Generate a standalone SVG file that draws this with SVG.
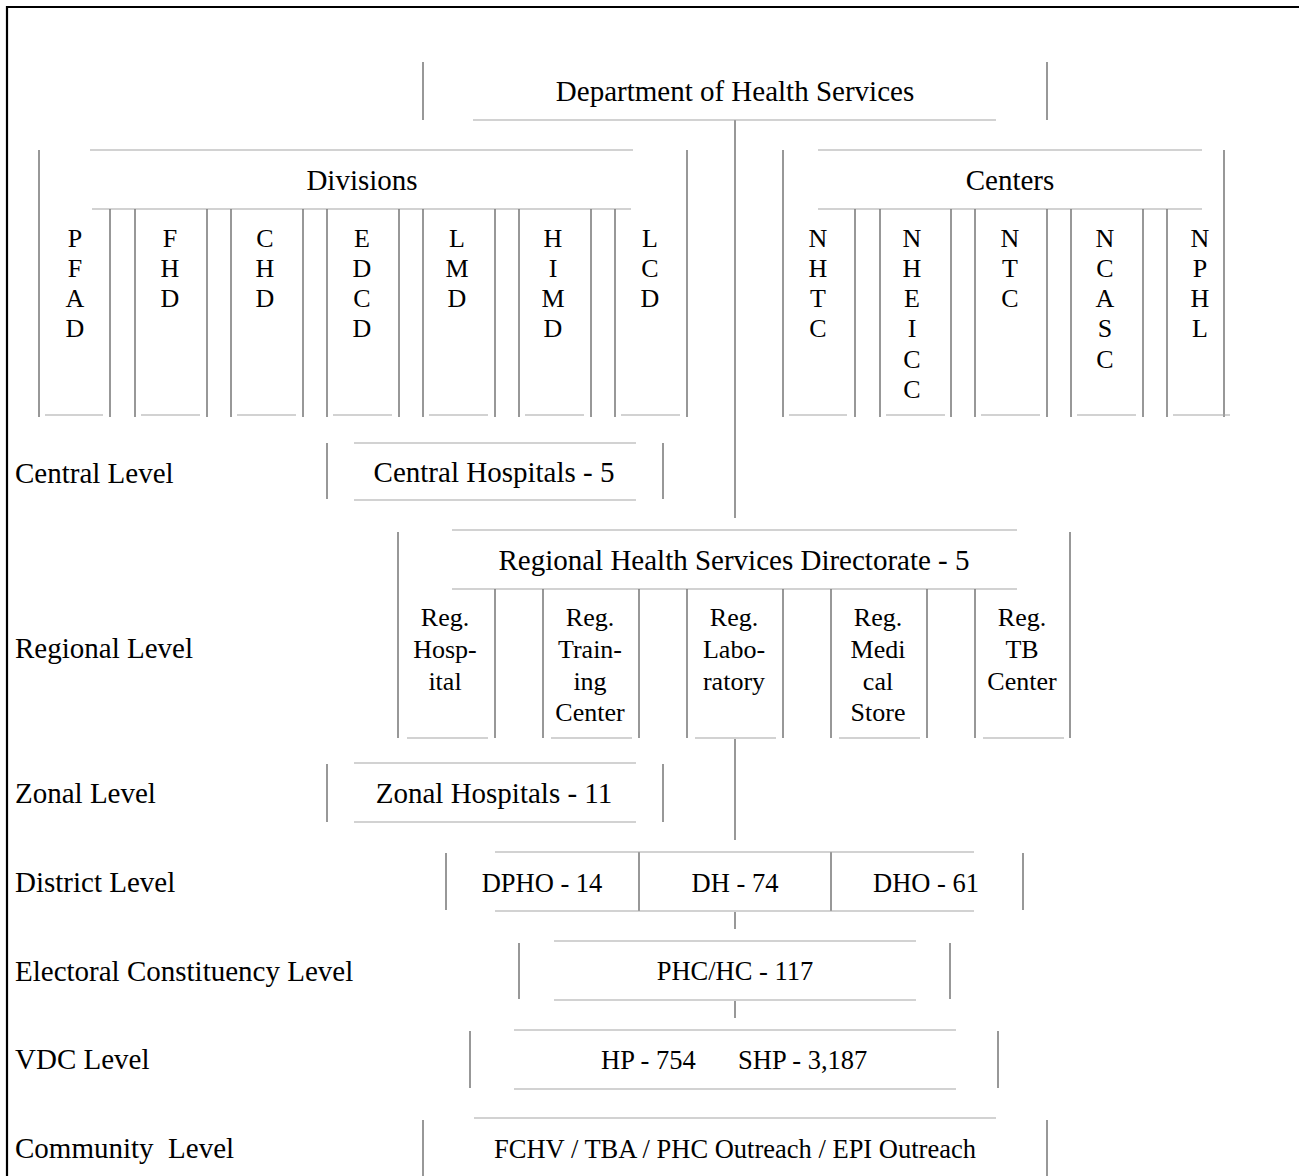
<svg xmlns="http://www.w3.org/2000/svg" width="1299" height="1176" viewBox="0 0 1299 1176">
<style>
text{font-family:"Liberation Serif","Times New Roman",serif;fill:#000}
.lg{font-size:29px}
.sm{font-size:26.5px}
.col{font-size:26px}
.c{text-anchor:middle}
.v{stroke:#7f7f7f;stroke-width:1.6;fill:none}
.h{stroke:#a6a6a6;stroke-width:1.2;fill:none}
.u{stroke:#a6a6a6;stroke-width:1.2;fill:none}
.b{stroke:#000;stroke-width:2.2;fill:none}
</style>
<rect width="1299" height="1176" fill="#fff"/>
<g id="border"><path class="b" d="M7 1176V7H1299"/></g>

<g id="levels" class="lg">
<text x="15" y="483">Central Level</text>
<text x="15" y="658">Regional Level</text>
<text x="15" y="803">Zonal Level</text>
<text x="15" y="892">District Level</text>
<text x="15" y="981">Electoral Constituency Level</text>
<text x="15" y="1069">VDC Level</text>
<text x="15" y="1158" style="white-space:pre">Community  Level</text>
</g>

<g id="connectors">
<path class="v" d="M735 120V518M735 739V840M735 912V929M735 1001V1018"/>
</g>

<g id="dhs">
<path class="v" d="M423 62V120M1047 62V120"/>
<path class="h" d="M473 120H996"/>
<text class="lg c" x="735" y="101">Department of Health Services</text>
</g>

<g id="divisions">
<path class="v" d="M39 150V417M687 150V417"/>
<path class="h" d="M90 150H633M92 209H631"/>
<text class="lg c" x="362" y="190">Divisions</text>
<path class="v" d="M110 209V417M135 209V417M207 209V417M231 209V417M303 209V417M327 209V417M399 209V417M423 209V417M495 209V417M519 209V417M591 209V417M615 209V417"/>
<path class="u" d="M45 415H103M141 415H200M237 415H296M333 415H392M429 415H488M525 415H584M621 415H680"/>
<g class="col c">
<text x="75" y="247">P</text><text x="75" y="277">F</text><text x="75" y="307">A</text><text x="75" y="337">D</text>
<text x="170" y="247">F</text><text x="170" y="277">H</text><text x="170" y="307">D</text>
<text x="265" y="247">C</text><text x="265" y="277">H</text><text x="265" y="307">D</text>
<text x="362" y="247">E</text><text x="362" y="277">D</text><text x="362" y="307">C</text><text x="362" y="337">D</text>
<text x="457" y="247">L</text><text x="457" y="277">M</text><text x="457" y="307">D</text>
<text x="553" y="247">H</text><text x="553" y="277">I</text><text x="553" y="307">M</text><text x="553" y="337">D</text>
<text x="650" y="247">L</text><text x="650" y="277">C</text><text x="650" y="307">D</text>
</g>
</g>

<g id="centers">
<path class="v" d="M783 150V417M1224 150V417"/>
<path class="h" d="M818 150H1202M818 209H1202"/>
<text class="lg c" x="1010" y="190">Centers</text>
<path class="v" d="M855 209V417M880 209V417M951 209V417M975 209V417M1047 209V417M1071 209V417M1143 209V417M1167 209V417"/>
<path class="u" d="M789 415H847M886 415H945M981 415H1040M1077 415H1136M1173 415H1230"/>
<g class="col c">
<text x="818" y="247">N</text><text x="818" y="277">H</text><text x="818" y="307">T</text><text x="818" y="337">C</text>
<text x="912" y="247">N</text><text x="912" y="277">H</text><text x="912" y="307">E</text><text x="912" y="337">I</text><text x="912" y="368">C</text><text x="912" y="398">C</text>
<text x="1010" y="247">N</text><text x="1010" y="277">T</text><text x="1010" y="307">C</text>
<text x="1105" y="247">N</text><text x="1105" y="277">C</text><text x="1105" y="307">A</text><text x="1105" y="337">S</text><text x="1105" y="368">C</text>
<text x="1200" y="247">N</text><text x="1200" y="277">P</text><text x="1200" y="307">H</text><text x="1200" y="337">L</text>
</g>
</g>

<g id="central-hospitals">
<path class="v" d="M327 443V499M663 443V499"/>
<path class="h" d="M354 443H636M354 500H636"/>
<text class="lg c" x="494" y="482">Central Hospitals - 5</text>
</g>

<g id="regional">
<path class="v" d="M398 532V738M1070 532V738"/>
<path class="h" d="M452 530H1017M452 589H1017"/>
<text class="lg c" x="734" y="570">Regional Health Services Directorate - 5</text>
<path class="v" d="M495 589V738M543 589V738M639 589V738M687 589V738M783 589V738M831 589V738M927 589V738M975 589V738"/>
<path class="u" d="M407 738H488M551 738H632M695 738H776M839 738H920M983 738H1064"/>
<g class="col c">
<text x="445" y="626">Reg.</text><text x="445" y="658">Hosp-</text><text x="445" y="690">ital</text>
<text x="590" y="626">Reg.</text><text x="590" y="658">Train-</text><text x="590" y="690">ing</text><text x="590" y="721">Center</text>
<text x="734" y="626">Reg.</text><text x="734" y="658">Labo-</text><text x="734" y="690">ratory</text>
<text x="878" y="626">Reg.</text><text x="878" y="658">Medi</text><text x="878" y="690">cal</text><text x="878" y="721">Store</text>
<text x="1022" y="626">Reg.</text><text x="1022" y="658">TB</text><text x="1022" y="690">Center</text>
</g>
</g>

<g id="zonal-hospitals">
<path class="v" d="M327 764V822M663 764V822"/>
<path class="h" d="M354 763H636M354 822H636"/>
<text class="lg c" x="494" y="803">Zonal Hospitals - 11</text>
</g>

<g id="district">
<path class="v" d="M446 853V910M1023 853V910M639 852V911M831 852V911"/>
<path class="h" d="M495 852H974M495 911H974"/>
<text class="sm c" x="542" y="892">DPHO - 14</text>
<text class="sm c" x="735" y="892">DH - 74</text>
<text class="sm c" x="926" y="892">DHO - 61</text>
</g>

<g id="phc">
<path class="v" d="M519 943V999M950 943V999"/>
<path class="h" d="M554 941H916M554 1000H916"/>
<text class="sm c" x="735" y="980">PHC/HC - 117</text>
</g>

<g id="vdc">
<path class="v" d="M470 1031V1088M998 1031V1088"/>
<path class="h" d="M514 1030H956M514 1089H956"/>
<text class="sm" x="601" y="1069">HP - 754</text>
<text class="sm" x="738" y="1069">SHP - 3,187</text>
</g>

<g id="community">
<path class="v" d="M423 1120V1176M1047 1120V1176"/>
<path class="h" d="M474 1118H996"/>
<text class="sm c" x="735" y="1158">FCHV / TBA / PHC Outreach / EPI Outreach</text>
</g>
</svg>
